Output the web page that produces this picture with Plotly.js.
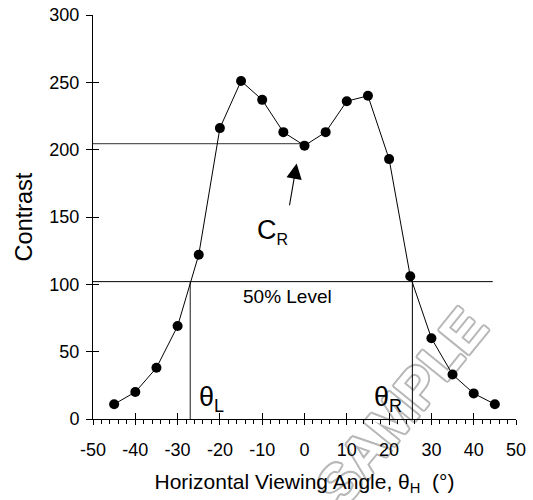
<!DOCTYPE html>
<html><head><meta charset="utf-8">
<script src="https://cdn.plot.ly/plotly-3.0.1.min.js"></script>
<style>html,body{margin:0;padding:0;background:#fff}</style>
</head><body><div id="chart" style="width:533px;height:500px"></div>
<script>
// Data
const angle = [-45,-40,-35,-30,-25,-20,-15,-10,-5,0,5,10,15,20,25,30,35,40,45];
const contrast = [11,20,38,69,122,216,251,237,213,203,213,236,240,193,106,60,33,19,11];
const xTickVals = [-50,-40,-30,-20,-10,0,10,20,30,40,50];
const xTickText = ['-50','-40','-30','-20','-10','0','10','20','30','40','50'];
const yTickVals = [0,50,100,150,200,250,300];
// Reference levels
const crLevel = 204.5, crAngle = 0;
const halfLevel = 102, halfLineEnd = 44.5;
const thetaL = -27, thetaR = 25.5, thetaRTop = 106;
const xMin = -50, xMax = 50, yMin = 0, yMax = 300;

const FONT = 'Liberation Sans, Arial, Helvetica, sans-serif';
const gray = '#5a5a5a';
const wm = '#b8b8b8';

const traces = [
  {x:[xMin, crAngle], y:[crLevel, crLevel], mode:'lines', line:{color:gray, width:1.4}, hoverinfo:'skip', showlegend:false},
  {x:[xMin, halfLineEnd], y:[halfLevel, halfLevel], mode:'lines', line:{color:'#000', width:1}, hoverinfo:'skip', showlegend:false},
  {x:[thetaL, thetaL], y:[yMin, halfLevel], mode:'lines', line:{color:gray, width:1.4}, hoverinfo:'skip', showlegend:false},
  {x:[thetaR, thetaR], y:[yMin, thetaRTop], mode:'lines', line:{color:'#000', width:1}, hoverinfo:'skip', showlegend:false},
  {x:angle, y:contrast, mode:'lines+markers', line:{color:'#000', width:1}, marker:{color:'#000', size:10}, showlegend:false},
  {x:[xMin], y:[yMin], xaxis:'x2', yaxis:'y2', mode:'markers', marker:{opacity:0}, hoverinfo:'skip', showlegend:false}
];

const layout = {
  width:533, height:500, autosize:false,
  margin:{l:93, r:17, t:15, b:81},
  paper_bgcolor:'#fff', plot_bgcolor:'#fff',
  font:{family:FONT, color:'#000'},
  showlegend:false,
  xaxis:{range:[xMin,xMax], tickmode:'array', tickvals:xTickVals, ticktext:xTickText, ticks:'outside', ticklen:5, tickwidth:1, tickcolor:'#000',
    minor:{dtick:2, ticks:'outside', ticklen:4, tickwidth:1, tickcolor:'#000'},
    showline:true, linecolor:'#000', linewidth:1, showgrid:false, zeroline:false,
    ticklabelstandoff:9,
    tickfont:{family:FONT, size:18, color:'#000'},
    title:{text:'Horizontal Viewing Angle, θ<sub>H</sub>  (°)', font:{family:FONT, size:21, color:'#000'}, standoff:15}},
  yaxis:{range:[yMin,yMax], tickmode:'array', tickvals:yTickVals, ticks:'outside', ticklen:6, tickwidth:1, tickcolor:'#000',
    showline:true, linecolor:'#000', linewidth:1, showgrid:false, zeroline:false,
    ticklabelstandoff:3,
    tickfont:{family:FONT, size:18, color:'#000'},
    title:{text:'Contrast', font:{family:FONT, size:23.5, color:'#000'}, standoff:10}},
  xaxis2:{overlaying:'x', matches:'x', anchor:'y2', ticks:'inside', ticklen:6, tickwidth:1, tickcolor:'#000', tickmode:'array', tickvals:xTickVals,
    showticklabels:false, showline:false, showgrid:false, zeroline:false},
  yaxis2:{overlaying:'y', matches:'y', anchor:'x2', side:'left', ticks:'inside', ticklen:6, tickwidth:1, tickcolor:'#000', tickmode:'array', tickvals:yTickVals,
    showticklabels:false, showline:false, showgrid:false, zeroline:false},
  annotations:[
    {x:-1.85, y:189.8, ax:-3.6, ay:157.6, axref:'x', ayref:'y', xref:'x', yref:'y', text:'', showarrow:true,
     arrowhead:2, arrowsize:2.8, arrowwidth:1.1, arrowcolor:'#000', standoff:0, startstandoff:0},
    {x:-11.6, y:139, xref:'x', yref:'y', xanchor:'left', yanchor:'middle', showarrow:false,
     text:'C<sub><span style="font-size:16px">R</span></sub>', font:{family:FONT, size:27, color:'#000'}},
    {x:-14.9, y:90.6, xref:'x', yref:'y', xanchor:'left', yanchor:'middle', showarrow:false,
     text:'50% Level', font:{family:FONT, size:19, color:'#000'}},
    {x:-25.4, y:14.5, xref:'x', yref:'y', xanchor:'left', yanchor:'middle', showarrow:false,
     text:'θ<sub><span style="font-size:18px">L</span></sub>', font:{family:FONT, size:27, color:'#000'}},
    {x:15.9, y:14.5, xref:'x', yref:'y', xanchor:'left', yanchor:'middle', showarrow:false,
     text:'θ<sub><span style="font-size:18px">R</span></sub>', font:{family:FONT, size:27, color:'#000'}},
    {x:0.73, y:0.03, xref:'paper', yref:'paper', xanchor:'center', yanchor:'middle', showarrow:false, textangle:-51,
     text:'SAMPLE', font:{family:FONT, size:56, weight:700, color:'#ffffff',
       shadow:'2px 0 0 '+wm+', -2px 0 0 '+wm+', 0 2px 0 '+wm+', 0 -2px 0 '+wm+', 1.5px 1.5px 0 '+wm+', -1.5px -1.5px 0 '+wm+', 1.5px -1.5px 0 '+wm+', -1.5px 1.5px 0 '+wm}}
  ]
};

Plotly.newPlot('chart', traces, layout, {displayModeBar:false, staticPlot:true}).then(function(gd){
  // place the watermark annotation beneath the data, as in the reference
  const anns = gd.querySelectorAll('.infolayer .annotation');
  const wmark = anns[anns.length - 1];
  const below = gd.querySelector('.main-svg .layer-below');
  if (wmark && below) below.appendChild(wmark);
});
</script></body></html>
